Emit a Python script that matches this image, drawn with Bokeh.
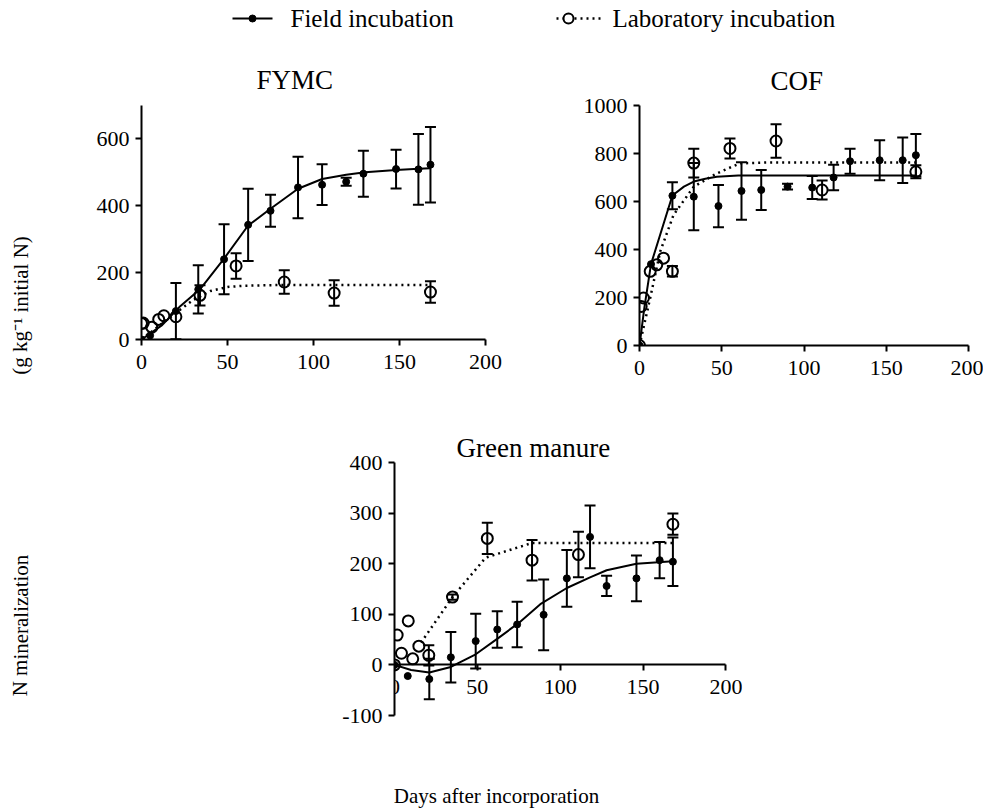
from bokeh.plotting import figure
from bokeh.models import (Range1d, ColumnDataSource, Whisker, TeeHead, FixedTicker, Spacer)
from bokeh.layouts import column, row
from bokeh.core.properties import value
from bokeh.embed import file_html
from bokeh.resources import INLINE

FONT = "Liberation Serif"

# ---------------- data ----------------
x_ticks = [0, 50, 100, 150, 200]

# FYMC
fymc_field_day = [0, 5, 20, 33, 48, 62, 75, 91, 105, 119, 129, 148, 161, 168]
fymc_field_val = [0, 12, 85, 150, 240, 343, 385, 455, 463, 472, 496, 510, 509, 523]
fymc_field_err = [0, 0, 84, 72, 105, 108, 48, 92, 61, 12, 69, 58, 106, 113]
fymc_lab_day = [0, 1, 6, 10, 13, 20, 34, 55, 83, 112, 168]
fymc_lab_val = [48, 49, 37, 60, 71, 68, 132, 220, 172, 139, 142]
fymc_lab_err = [0, 0, 0, 0, 0, 0, 30, 38, 35, 38, 32]
fymc_field_fit_day = [0, 12, 22, 34, 48, 62, 75, 91, 105, 119, 130, 148, 161, 168]
fymc_field_fit_val = [0, 43, 97, 150, 242, 341, 391, 451, 480, 493, 500, 507, 511, 512]
fymc_lab_fit_day = [0, 10, 20, 30, 40, 50, 60, 80, 168]
fymc_lab_fit_val = [0, 40, 80, 118, 145, 157, 161, 163, 163]
fymc_y_ticks = [0, 200, 400, 600]

# COF
cof_field_day = [0, 7, 20, 33, 48, 62, 74, 90, 105, 118, 128, 146, 160, 168]
cof_field_val = [0, 339, 624, 620, 581, 644, 648, 662, 658, 700, 768, 772, 772, 793]
cof_field_err = [0, 0, 56, 140, 88, 120, 83, 12, 48, 53, 52, 83, 95, 88]
cof_lab_day = [0, 1, 2.4, 6.5, 10.5, 14.6, 20, 33, 55, 83, 111, 168]
cof_lab_val = [0, 163, 198, 309, 336, 364, 309, 760, 821, 852, 648, 724]
cof_lab_err = [0, 0, 0, 0, 0, 0, 22, 60, 42, 70, 40, 27]
cof_field_fit_day = [0, 3, 7, 20, 27, 33, 40, 47, 60, 168]
cof_field_fit_val = [0, 160, 339, 625, 662, 683, 695, 703, 708, 708]
cof_lab_fit_day = [0, 6.5, 12.6, 20.7, 33, 47, 61, 80, 168]
cof_lab_fit_val = [0, 198, 392, 544, 662, 717, 759, 763, 763]
cof_y_ticks = [0, 200, 400, 600, 800, 1000]

# Green manure
gm_field_day = [0, 8, 21, 34, 49, 62, 74, 90, 104, 118, 128, 146, 160, 168]
gm_field_val = [0, -22, -28, 15, 47, 70, 80, 99, 171, 253, 156, 171, 207, 204]
gm_field_err = [0, 0, 40, 50, 54, 36, 45, 70, 56, 62, 20, 45, 36, 48]
gm_lab_day = [0, 1.6, 4.2, 8.3, 11, 14.7, 20.7, 35, 56, 83, 111, 168]
gm_lab_val = [0, 59, 23, 87, 12, 37, 19, 134, 250, 207, 218, 278]
gm_lab_err = [0, 0, 0, 0, 0, 0, 20, 5, 31, 40, 45, 21]
gm_field_fit_day = [0, 10, 21, 34, 49, 63, 75, 88, 104, 118, 128, 146, 168]
gm_field_fit_val = [0, -10, -15, -4, 21, 54, 83, 120, 152, 173, 187, 200, 205]
gm_lab_fit_day = [16, 35, 55, 83, 168]
gm_lab_fit_val = [44, 134, 212, 241, 241]
gm_y_ticks = [-100, 0, 100, 200, 300, 400]

legend_labels = ["Field incubation", "Laboratory incubation"]
panel_titles = ["FYMC", "COF", "Green manure"]
x_label = "Days after incorporation"
y_label_parts = ["N mineralization", "(g kg\u207b\u00b9 initial N)"]


def err_source(days, vals, errs):
    d = [(x, v, e) for x, v, e in zip(days, vals, errs) if e > 0]
    return ColumnDataSource(dict(x=[a[0] for a in d],
                                 upper=[a[1] + a[2] for a in d],
                                 lower=[a[1] - a[2] for a in d]))


def make_panel(title, fw, fh, bl, bt, br, bb, xr, yr, yticks, title_offset, title_standoff,
               fd, fv, fe, ld, lv, le, ffd, ffv, lfd, lfv, x_at_zero=False):
    p = figure(frame_width=fw, frame_height=fh, min_border_left=bl, min_border_top=bt,
               min_border_right=br, min_border_bottom=bb,
               x_range=Range1d(*xr), y_range=Range1d(*yr),
               output_backend="svg", toolbar_location=None, tools="")
    p.outline_line_color = None
    p.background_fill_color = "white"
    p.border_fill_color = "white"
    p.xgrid.visible = False
    p.ygrid.visible = False
    p.xaxis.ticker = FixedTicker(ticks=x_ticks)
    p.yaxis.ticker = FixedTicker(ticks=yticks)
    p.yaxis.major_label_overrides = {t: str(t) for t in yticks}
    for ax in p.axis:
        ax.axis_line_width = 2
        ax.axis_line_color = "black"
        ax.major_tick_line_width = 2
        ax.major_tick_line_color = "black"
        ax.major_tick_out = 6
        ax.major_tick_in = 0
        ax.minor_tick_line_color = None
        ax.major_label_text_font = FONT
        ax.major_label_text_font_size = "22px"
        ax.major_label_text_color = "black"
    p.xaxis.major_label_standoff = 9
    p.yaxis.major_label_standoff = 6
    p.xaxis.bounds = (x_ticks[0], x_ticks[-1])
    if x_at_zero:
        p.xaxis.fixed_location = 0

    p.title.text = title
    p.title.align = "left"
    p.title.offset = title_offset
    p.title.standoff = title_standoff
    p.title.text_font = FONT
    p.title.text_font_size = "27px"
    p.title.text_font_style = "normal"
    p.title.text_color = "black"

    p.line(ffd, ffv, line_color="black", line_width=2)
    p.line(lfd, lfv, line_color="black", line_width=2.5, line_dash="2 4")
    for src in (err_source(fd, fv, fe), err_source(ld, lv, le)):
        w = Whisker(source=src, base="x", upper="upper", lower="lower",
                    line_color="black", line_width=2,
                    upper_head=TeeHead(size=11, line_width=2, line_color="black"),
                    lower_head=TeeHead(size=11, line_width=2, line_color="black"))
        p.add_layout(w)
    p.scatter(ld, lv, marker="circle", size=11, fill_color=None,
              line_color="black", line_width=2)
    p.scatter(fd, fv, marker="circle", size=7, fill_color="black",
              line_color="black")
    return p


fymc = make_panel(panel_titles[0], 344, 234, 93, 57, 35, 41, (0, 200), (0, 700), fymc_y_ticks, 115, 21,
                  fymc_field_day, fymc_field_val, fymc_field_err,
                  fymc_lab_day, fymc_lab_val, fymc_lab_err,
                  fymc_field_fit_day, fymc_field_fit_val,
                  fymc_lab_fit_day, fymc_lab_fit_val)
cof = make_panel(panel_titles[1], 329, 240, 119, 51, 15, 41, (0, 200), (0, 1000), cof_y_ticks, 131, 19,
                 cof_field_day, cof_field_val, cof_field_err,
                 cof_lab_day, cof_lab_val, cof_lab_err,
                 cof_field_fit_day, cof_field_fit_val,
                 cof_lab_fit_day, cof_lab_fit_val)
# the frame runs a little past day 200 so that the in-frame axis label "200" is not clipped
gm = make_panel(panel_titles[2], 348, 253, 66, 82, 12, 22, (0, 210), (-100, 400), gm_y_ticks, 62, 0,
                gm_field_day, gm_field_val, gm_field_err,
                gm_lab_day, gm_lab_val, gm_lab_err,
                gm_field_fit_day, gm_field_fit_val,
                gm_lab_fit_day, gm_lab_fit_val, x_at_zero=True)


def text_fig(w, h):
    f = figure(width=w, height=h, x_range=Range1d(0, w), y_range=Range1d(0, h),
               x_axis_type=None, y_axis_type=None, output_backend="svg",
               toolbar_location=None, tools="", title=None)
    f.min_border_left = f.min_border_right = f.min_border_top = f.min_border_bottom = 0
    f.outline_line_color = None
    f.background_fill_color = "white"
    f.border_fill_color = "white"
    return f


# legend strip (keys drawn at fixed pixel positions of the strip)
leg = text_fig(992, 48)
leg.line(x=[232, 272], y=[30, 30], line_color="black", line_width=2)
leg.scatter(x=[252], y=[30], marker="circle", size=7, fill_color="black", line_color="black")
leg.line(x=[556, 601], y=[30, 30], line_color="black", line_width=2.5, line_dash="2 4")
leg.scatter(x=[568], y=[30], marker="circle", size=10, fill_color="white",
            line_color="black", line_width=2)
leg.text(x=[290, 612], y=[30, 30], text=legend_labels, text_font=value(FONT),
         text_font_size="25px", text_align="left", text_baseline="middle", text_color="black")

# y label strip
ylab = text_fig(48, 677)
ylab.text(x=[20, 20], y=[100, 420], text=y_label_parts, angle=1.5707963,
          text_font=value(FONT), text_font_size="21px", text_align="center",
          text_baseline="middle", text_color="black")

# x label strip
xlab = text_fig(992, 71)
xlab.text(x=[496], y=[13], text=[x_label], text_font=value(FONT), text_font_size="21px",
          text_align="center", text_baseline="middle", text_color="black")

layout = column(leg,
                row(ylab, column(row(fymc, cof), row(Spacer(width=280, height=10), gm))),
                xlab)

open("out.html", "w").write(file_html(layout, INLINE))
